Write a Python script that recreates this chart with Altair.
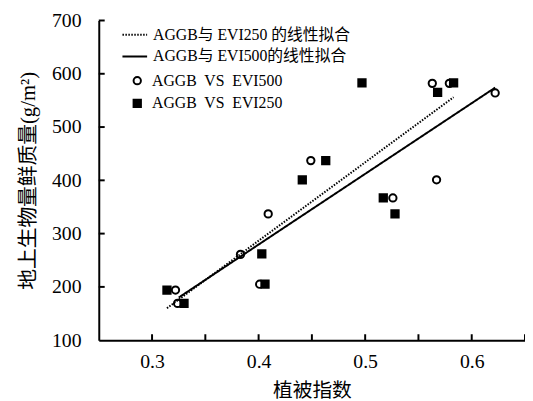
import altair as alt
import pandas as pd

# ---- data ----
evi250_x = [0.314, 0.330, 0.403, 0.406, 0.441, 0.463, 0.497, 0.517, 0.528, 0.568, 0.583]
evi250_y = [194, 169, 262, 205, 401, 437, 583, 367, 337, 565, 583]
evi500_x = [0.322, 0.324, 0.383, 0.401, 0.409, 0.449, 0.526, 0.567, 0.563, 0.579, 0.622]
evi500_y = [194, 169, 261, 205, 337, 437, 367, 401, 582, 582, 564]

fit250_x = [0.314, 0.583]
fit250_y = [160, 556]
fit500_x = [0.325, 0.622]
fit500_y = [180, 574]

x_tick_values = [0.3, 0.35, 0.4, 0.45, 0.5, 0.55, 0.6, 0.65]
x_label_values = [0.3, 0.4, 0.5, 0.6]
y_tick_values = [200, 300, 400, 500, 600, 700]
y_label_values = [100, 200, 300, 400, 500, 600, 700]

fit250_name = "AGGB与 EVI250 的线性拟合"
fit500_name = "AGGB与 EVI500的线性拟合"
pts500_name = "AGGB\u00a0 VS\u00a0 EVI500"
pts250_name = "AGGB\u00a0 VS\u00a0 EVI250"

x_title = "植被指数"
y_title = "地上生物量鲜质量(g/m²)"

FONT = "Liberation Serif, Noto Sans CJK SC"

fit_df = pd.DataFrame({
    "x": fit250_x + fit500_x,
    "y": fit250_y + fit500_y,
    "fit": [fit250_name] * len(fit250_x) + [fit500_name] * len(fit500_x),
})
pts_df = pd.DataFrame({
    "x": evi500_x + evi250_x,
    "y": evi500_y + evi250_y,
    "pts": [pts500_name] * len(evi500_x) + [pts250_name] * len(evi250_x),
})
xt_df = pd.DataFrame({"x": x_tick_values})
yt_df = pd.DataFrame({"y": y_tick_values})

xs = alt.Scale(domain=[0.25, 0.65], nice=False, zero=False)
ys = alt.Scale(domain=[100, 700], nice=False, zero=False)

x_axis = alt.Axis(values=x_label_values, format=".1f", grid=False, ticks=False, tickSize=0,
                  domainColor="black", domainWidth=2, labelFont=FONT, labelFontSize=20,
                  labelColor="black", labelPadding=12, labelFlush=False, labelOverlap=False,
                  title=x_title, titleFont=FONT, titleFontSize=20, titleFontWeight="normal",
                  titleColor="black", titlePadding=9)
y_axis = alt.Axis(values=y_label_values, format="d", grid=False, ticks=False, tickSize=0,
                  domainColor="black", domainWidth=2, labelFont=FONT, labelFontSize=20,
                  labelColor="black", labelPadding=18, labelFlush=False, labelOverlap=False,
                  title=y_title, titleFont=FONT, titleFontSize=21, titleFontWeight="normal",
                  titleColor="black", titlePadding=13)

line_legend = alt.Legend(orient="none", legendX=23, legendY=1, title=None, padding=0,
                         symbolType="stroke", symbolSize=625, symbolStrokeColor="black",
                         symbolStrokeWidth=2, labelOffset=5, rowPadding=-7,
                         labelFont=FONT, labelFontSize=16, labelColor="black", labelLimit=0)
pt_legend = alt.Legend(orient="none", legendX=31, legendY=53, title=None, padding=0,
                       symbolSize=55, symbolStrokeColor="black", symbolStrokeWidth=2,
                       labelOffset=7, rowPadding=7,
                       labelFont=FONT, labelFontSize=16, labelColor="black", labelLimit=0)

pt_domain = [pts500_name, pts250_name]

lines = alt.Chart(fit_df).mark_line(color="black", strokeWidth=2).encode(
    x=alt.X("x:Q", scale=xs, axis=x_axis),
    y=alt.Y("y:Q", scale=ys, axis=y_axis),
    strokeDash=alt.StrokeDash("fit:N", scale=alt.Scale(domain=[fit250_name, fit500_name],
                                                       range=[[1.5, 1.5], [1, 0]]),
                              legend=line_legend),
)

points = alt.Chart(pts_df).mark_point(size=55, strokeWidth=2, opacity=1).encode(
    x=alt.X("x:Q", scale=xs, axis=x_axis),
    y=alt.Y("y:Q", scale=ys, axis=y_axis),
    shape=alt.Shape("pts:N", scale=alt.Scale(domain=pt_domain, range=["circle", "square"]),
                    legend=pt_legend),
    fill=alt.Fill("pts:N", scale=alt.Scale(domain=pt_domain, range=["transparent", "black"]),
                  legend=pt_legend),
    stroke=alt.Stroke("pts:N", scale=alt.Scale(domain=pt_domain, range=["black", "black"]),
                      legend=pt_legend),
)

xticks = alt.Chart(xt_df).mark_rule(color="black", strokeWidth=2).encode(
    x=alt.X("x:Q", scale=xs, axis=x_axis),
    y=alt.value(324), y2=alt.value(318),
)
yticks = alt.Chart(yt_df).mark_rule(color="black", strokeWidth=2).encode(
    y=alt.Y("y:Q", scale=ys, axis=y_axis),
    x=alt.value(0), x2=alt.value(6),
)

chart = alt.layer(lines, points, xticks, yticks).properties(
    width=432, height=324,
    padding={"left": 92, "top": 10, "right": 0, "bottom": 60},
    autosize=alt.AutoSizeParams(type="none"),
).configure_view(stroke="transparent")

chart.save("out.html", embed_options={"renderer": "svg", "actions": False})
